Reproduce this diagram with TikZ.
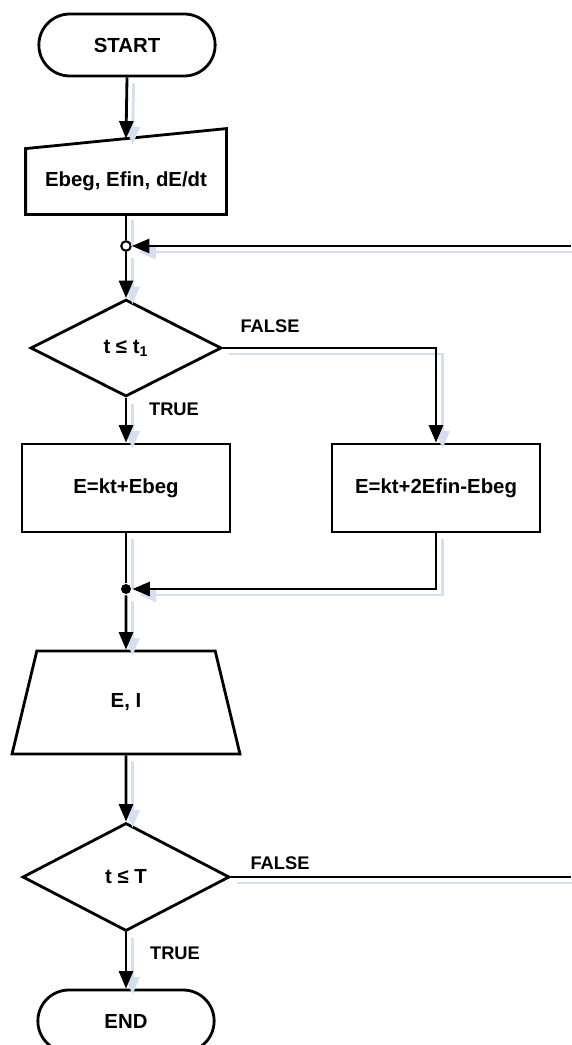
\documentclass[tikz,border=0pt]{standalone}
\usepackage{fontspec}
\setmainfont{Liberation Sans}
\usetikzlibrary{shapes.geometric,shapes.misc,arrows.meta,calc}
\definecolor{shadowblue}{RGB}{212,223,240}

\begin{document}
\begin{tikzpicture}[
    font=\fontsize{11.6}{13.9}\selectfont\bfseries,
    line width=1.6pt,
    term/.style={draw, rounded rectangle, minimum width=3.76cm, minimum height=1.24cm},
    proc/.style={draw, rectangle, minimum width=4.16cm, minimum height=1.76cm},
    dec/.style={draw, diamond, inner sep=0pt},
    lbl/.style={font=\fontsize{10.4}{12}\selectfont\bfseries},
    link/.style={preaction={draw=shadowblue, transform canvas={shift={(0.13,-0.12)}}}},
    arr/.style={link, -{Triangle[length=0.35cm, width=0.28cm]}},
]
    \useasboundingbox (0,0) rectangle (11.42,-20.9);

    \node[term] (start) at (2.54,-0.9) {START};
    \node[minimum width=3.96cm, minimum height=1.26cm] (inp) at (2.52,-3.63) {Ebeg, Efin, dE/dt};
    \draw (inp.south west) -- (inp.north west) -- ($(inp.north east)+(0,0.4)$) -- (inp.south east) -- cycle;
    \coordinate (inptop) at ($(inp.north)+(0,0.2)$);

    \node[circle, draw, fill=white, line width=1.2pt, minimum size=0.19cm, inner sep=0pt] (j1) at (2.52,-4.92) {};
    \coordinate (back) at (11.42,-4.92);

    \node[dec, minimum width=3.82cm, minimum height=1.94cm] (d1) at (2.52,-6.96) {t ≤ t\textsubscript{1}};
    \node[proc] (b1) at (2.52,-9.76) {E=kt+Ebeg};
    \node[proc] (b2) at (8.72,-9.76) {E=kt+2Efin-Ebeg};
    \node[circle, fill, inner sep=0pt, minimum size=0.2cm] (m) at (2.52,-11.78) {};

    \node[draw, trapezium, trapezium left angle=78.5, trapezium right angle=78.5,
          trapezium stretches=true, minimum width=4.56cm, minimum height=2.06cm] (out) at (2.52,-14.05) {E, I};

    \node[dec, minimum width=4.14cm, minimum height=2.16cm] (d2) at (2.52,-17.54) {t ≤ T};
    \node[term] (end) at (2.52,-20.42) {END};
    \coordinate (stop) at (11.42,-17.54);

    \node[lbl] (f1) at (5.4,-6.52) {FALSE};
    \node[lbl] (t1) at (3.48,-8.18) {TRUE};
    \node[lbl] (f2) at (5.6,-17.26) {FALSE};
    \node[lbl] (t2) at (3.5,-19.06) {TRUE};

    % connectors
    \draw[arr] (start.south) -- (inptop);
    \draw[link] (inp.south) -- (j1);
    \draw[arr] (back) -- (j1);
    \draw[arr] (j1) -- (d1.north);
    \draw[arr] (d1.south) -- (b1.north);
    \draw[arr] (d1.east) -| (b2.north);
    \draw[link] (b1.south) -- (m);
    \draw[arr] (b2.south) |- (m);
    \draw[arr] (m) -- (out.north);
    \draw[arr] (out.south) -- (d2.north);
    \draw[link] (d2.east) -- (stop);
    \draw[arr] (d2.south) -- (end.north);
\end{tikzpicture}
\end{document}
